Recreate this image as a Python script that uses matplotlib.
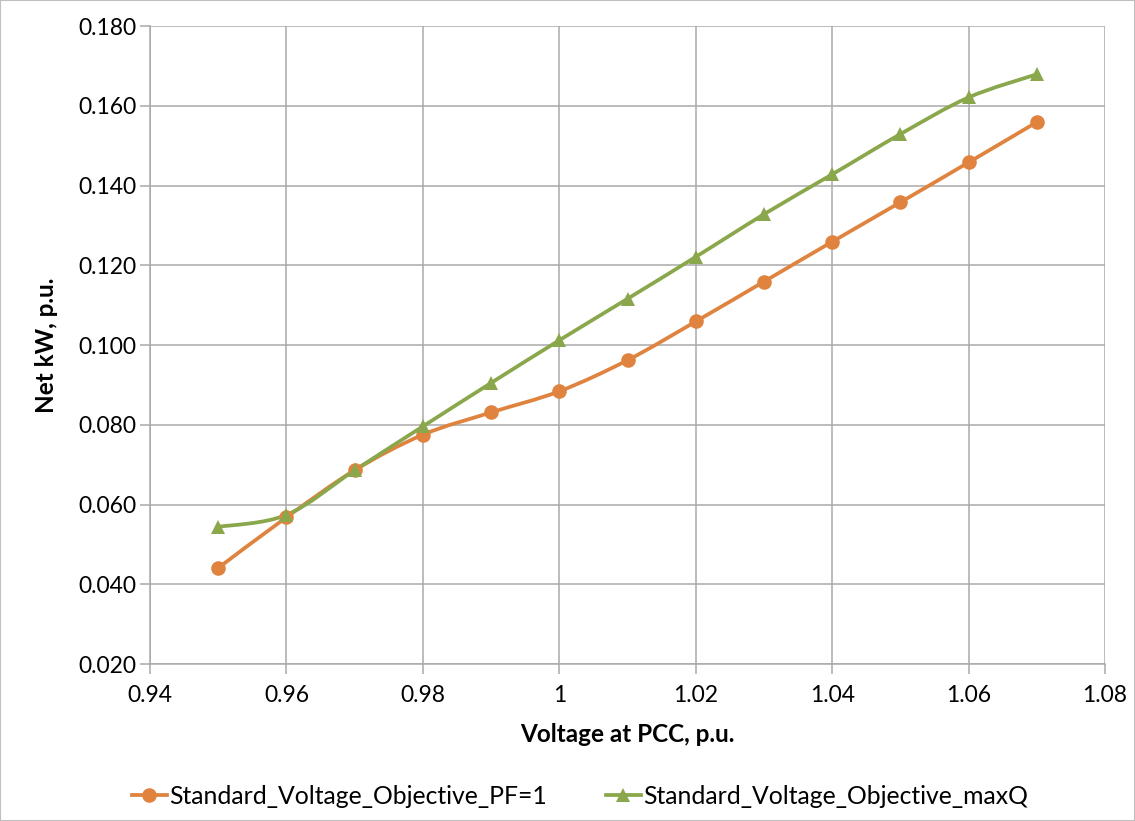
import numpy as np
import matplotlib
matplotlib.use("Agg")
import matplotlib.pyplot as plt
from matplotlib.path import Path
from matplotlib.patches import PathPatch, Rectangle
from matplotlib.lines import Line2D

# DONNÉES

voltage = [0.95, 0.96, 0.97, 0.98, 0.99, 1.00, 1.01, 1.02, 1.03, 1.04, 1.05, 1.06, 1.07]
kw_pf1 = [0.0441, 0.0568, 0.0686, 0.0775, 0.0831, 0.0884, 0.0962, 0.1059,
          0.1159, 0.1259, 0.1358, 0.1458, 0.1559]
kw_maxq = [0.0544, 0.0574, 0.0686, 0.0796, 0.0905, 0.1012, 0.1116, 0.1221,
           0.1328, 0.1428, 0.1529, 0.1621, 0.1679]

label_pf1 = "Standard_Voltage_Objective_PF=1"
label_maxq = "Standard_Voltage_Objective_maxQ"

x_ticks = [0.94, 0.96, 0.98, 1.00, 1.02, 1.04, 1.06, 1.08]
x_tick_labels = ["0.94", "0.96", "0.98", "1", "1.02", "1.04", "1.06", "1.08"]
y_ticks = [0.020, 0.040, 0.060, 0.080, 0.100, 0.120, 0.140, 0.160, 0.180]

ORANGE = "#DF833F"
GREEN = "#8BA74C"
GRID = "#A9A9A9"
LW = 2.7

plt.rcParams["font.family"] = ["Lato", "DejaVu Sans"]


def smooth_path(xs, ys):
    """Courbe lissée façon Excel (Catmull-Rom -> Bézier cubiques)."""
    pts = np.column_stack([xs, ys])
    verts = [pts[0]]
    codes = [Path.MOVETO]
    n = len(pts)
    for i in range(n - 1):
        p0 = pts[i - 1] if i > 0 else pts[i]
        p1 = pts[i]
        p2 = pts[i + 1]
        p3 = pts[i + 2] if i + 2 < n else pts[i + 1]
        c1 = p1 + (p2 - p0) / 6.0
        c2 = p2 - (p3 - p1) / 6.0
        verts += [c1, c2, p2]
        codes += [Path.CURVE4] * 3
    return Path(verts, codes)


fig = plt.figure(figsize=(11.35, 8.21), dpi=100)
ax = fig.add_axes([0.1322, 0.1912, 0.8414, 0.7771])

for xs, ys, color, marker, ms in [
    (voltage, kw_pf1, ORANGE, "o", 10.5),
    (voltage, kw_maxq, GREEN, "^", 10.5),
]:
    ax.add_patch(PathPatch(smooth_path(xs, ys), facecolor="none",
                           edgecolor=color, linewidth=LW, zorder=3,
                           capstyle="round", joinstyle="round"))
    ax.plot(xs, ys, linestyle="none", marker=marker, markersize=ms,
            color=color, markeredgewidth=0, zorder=4)

ax.set_xlim(0.94, 1.08)
ax.set_ylim(0.020, 0.180)
ax.set_xticks(x_ticks)
ax.set_xticklabels(x_tick_labels)
ax.set_yticks(y_ticks)
ax.set_yticklabels([f"{v:.3f}" for v in y_ticks])

ax.grid(True, color=GRID, linewidth=1.1)
ax.set_axisbelow(True)
for side in ["top", "right"]:
    ax.spines[side].set_visible(False)
for side in ["left", "bottom"]:
    ax.spines[side].set_color(GRID)
    ax.spines[side].set_linewidth(1.1)

ax.tick_params(axis="both", colors=GRID, labelcolor="black",
               labelsize=16.5, length=7, width=1.1)
ax.tick_params(axis="x", pad=8)
ax.tick_params(axis="y", pad=3)

ax.set_xlabel("Voltage at PCC, p.u.", fontsize=17.5, fontweight="bold", labelpad=12)
ax.set_ylabel("Net kW, p.u.", fontsize=17.5, fontweight="bold", labelpad=14)

handles = [
    Line2D([], [], color=ORANGE, marker="o", markersize=10.5, linewidth=LW,
           markeredgewidth=0, label=label_pf1),
    Line2D([], [], color=GREEN, marker="^", markersize=10.5, linewidth=LW,
           markeredgewidth=0, label=label_maxq),
]
fig.legend(handles=handles, loc="center", bbox_to_anchor=(0.511, 0.03),
           ncol=2, frameon=False, fontsize=17.8, handlelength=1.4,
           handletextpad=0.1, columnspacing=2.4)

# cadre du graphique
fig.add_artist(Rectangle((0, 0), 1, 1, transform=fig.transFigure,
                         fill=False, edgecolor="#BFBFBF", linewidth=1.5))

fig.savefig("out.png", dpi=100)
